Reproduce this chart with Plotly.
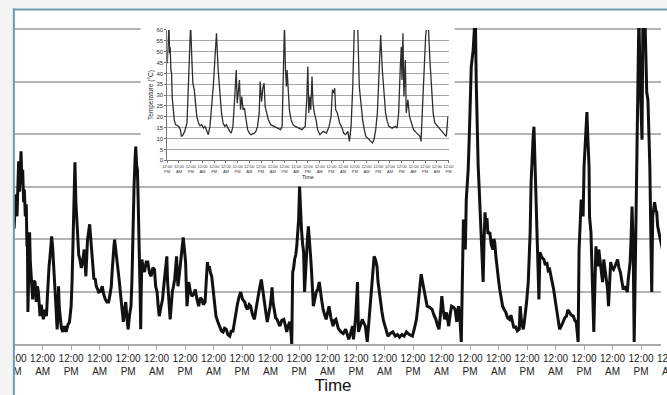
import plotly.graph_objects as go

FONT = "Liberation Sans, Arial, sans-serif"

# Main trace: hours from the first 12:00 PM mark, temperature
main_hours = [
    -2.9, -1.5, 0.0, 0.6, 1.2, 1.9, 2.3, 2.6, 2.9, 3.3, 3.6, 4.0, 4.3, 4.7, 5.1, 5.4, 5.6, 5.8,
    6.2, 6.5, 6.8, 7.0, 7.4, 7.8, 8.2, 8.8, 9.3, 9.8, 10.2, 10.6, 10.9, 11.4, 12.3, 13.0, 13.6,
    14.0, 14.3, 14.7, 15.0, 15.4, 15.8, 16.2, 16.6, 17.0, 17.5, 18.1, 18.4, 18.7, 19.0, 19.4,
    19.9, 20.5, 21.2, 21.9, 22.6, 23.3, 24.0, 24.4, 24.7, 25.1, 25.6, 26.0, 26.4, 26.7, 27.2,
    27.7, 28.3, 28.8, 29.5, 30.2, 30.9, 31.8, 32.2, 32.6, 33.1, 33.6, 34.1, 34.6, 35.1, 35.6,
    36.3, 37.1, 37.7, 38.4, 39.1, 39.8, 40.4, 40.9, 41.3, 41.6, 42.0, 42.3, 42.8, 43.2, 43.7,
    44.2, 44.8, 45.3, 45.7, 46.0, 46.5, 47.0, 47.5, 48.0, 48.6, 49.2, 49.6, 49.9, 50.2, 50.5,
    50.9, 51.2, 51.6, 51.9, 52.2, 52.5, 52.8, 53.0, 53.3, 53.5, 53.8, 54.3, 54.9, 55.6, 56.3,
    57.0, 57.7, 58.4, 59.1, 59.6, 60.2, 60.7, 61.1, 61.8, 62.5, 63.0, 63.5, 64.3, 64.6, 65.0,
    65.4, 65.7, 66.2, 66.6, 67.1, 67.6, 68.0, 68.4, 68.7, 69.0, 69.5, 70.1, 70.6, 71.2, 71.7,
    72.2, 72.5, 72.8, 73.2, 73.5, 74.2, 74.9, 75.6, 76.3, 77.0, 77.7, 78.4, 79.0, 79.7, 80.4,
    80.9, 81.4, 81.8, 82.2, 82.7, 83.2, 83.9, 84.4, 85.0, 85.8, 86.6, 87.3, 88.0, 88.6, 89.3,
    90.0, 90.8, 91.5, 92.1, 92.8, 93.4, 94.0, 94.6, 95.4, 96.2, 97.1, 97.7, 98.3, 99.0, 99.6,
    100.4, 101.2, 101.8, 102.4, 103.3, 104.1, 104.7, 105.3, 106.0, 106.6, 107.2, 107.8, 108.3,
    108.6, 109.0, 109.5, 110.1, 110.7, 111.3, 111.9, 112.7, 113.6, 114.2, 114.8, 115.4, 116.1,
    116.6, 116.9, 117.3, 117.7, 118.1, 118.6, 119.0, 119.4, 119.8, 120.2, 120.6, 121.0, 121.5,
    121.9, 122.3, 122.7, 123.1, 123.5, 123.9, 124.3, 124.8, 125.2, 125.6, 126.0, 126.6, 127.2,
    127.9, 128.5, 129.3, 130.1, 130.8, 131.4, 132.0, 132.6, 133.4, 134.3, 134.9, 135.5, 136.5,
    137.6, 138.6, 139.6, 140.3, 140.9, 141.7, 142.5, 142.9, 143.8, 144.6, 145.0, 145.8, 146.6,
    147.2, 147.9, 148.7, 149.3, 149.9, 150.4, 150.8, 151.2, 151.6, 152.2, 152.8, 153.2, 153.7,
    154.3, 154.9, 155.5, 156.1, 156.8, 157.4, 158.4, 159.5, 160.5, 161.4, 162.3, 163.3, 164.2,
    165.2, 166.4, 167.7, 168.6, 169.4, 170.0, 170.6, 171.0, 171.4, 172.0, 172.7, 173.3, 173.9,
    175.0, 176.0, 176.8, 177.6, 178.3, 178.9, 179.5, 180.1, 180.7, 181.3, 182.1, 183.0, 183.6,
    184.2, 185.0, 185.7, 186.4, 187.1, 187.7, 188.3, 189.2, 189.6, 190.0, 190.4, 190.8, 191.2,
    191.7, 192.1, 192.5, 193.3, 193.7, 194.2, 194.6, 195.0, 195.4, 195.8, 196.2, 196.6, 197.1,
    197.5, 197.9, 198.3, 198.7, 199.1, 199.5, 200.3, 200.9, 201.6, 202.0, 202.4, 202.8, 203.2,
    203.9, 204.5, 205.1, 205.7, 206.4, 207.0, 207.8, 208.6, 209.2, 209.8, 210.5, 211.1, 211.9,
    212.7, 213.1, 213.7, 214.4, 214.8, 215.2, 215.8, 216.5, 216.9, 217.3, 217.7, 218.1, 218.5,
    218.9, 219.4, 219.8, 220.2, 220.6, 221.0, 221.4, 222.2, 223.1, 223.7, 224.3, 224.9, 225.5,
    226.3, 227.2, 227.8, 228.4, 229.0, 229.7, 230.5, 231.3, 231.9, 232.6, 233.2, 233.8, 234.6,
    235.5, 236.1, 236.7, 237.1, 237.5, 237.9, 238.4, 238.8, 239.2, 239.6, 240.0, 240.6, 241.2,
    241.7, 242.1, 242.3, 242.9, 243.3, 243.7, 244.1, 244.5, 245.0, 245.4, 245.8, 246.2, 247.0,
    247.8, 248.3, 249.1, 249.9, 250.3, 250.8, 251.2, 251.8, 252.4, 253.2, 254.1, 254.7, 255.3,
    255.9, 256.5, 257.3, 258.2, 258.6, 259.0, 259.4, 259.8, 260.2, 260.7, 261.1, 261.5, 261.9,
    262.3, 262.7, 263.1, 263.5, 264.0, 264.4, 264.8, 265.2, 265.6, 266.0, 266.4, 266.9, 267.3,
    267.7, 268.1, 268.5, 268.9, 269.3, 269.7, 270.2, 270.6, 271.0, 271.6, 272.2, 273.0, 273.9,
]
main_temp = [
    20.0, 26.0, 22.0, 28.5, 24.3, 34.8, 29.0, 35.5, 36.7, 30.4, 33.2, 27.0, 29.4, 24.3, 26.6, 18.6, 20.0, 6.1,
    17.1, 21.3, 15.8, 14.2, 11.4, 8.5, 12.0, 11.8, 8.0, 11.0, 9.9, 7.0, 5.3, 7.5, 4.7, 6.5, 5.3,
    9.0, 12.9, 14.8, 16.1, 18.0, 20.5, 18.5, 16.1, 12.0, 8.0, 2.8, 5.0, 11.0, 7.0, 4.7,
    3.0, 2.3, 3.4, 2.3, 3.6, 4.2, 7.2, 12.0, 17.5, 30.0, 34.6, 27.0, 23.0, 19.9, 17.0,
    16.1, 14.5, 15.6, 18.0, 12.9, 19.9, 22.8, 20.0, 18.6, 15.0, 12.3, 12.5, 11.0, 10.5, 9.9,
    10.0, 11.0, 9.5, 8.5, 8.0, 8.0, 9.5, 11.0, 14.0, 17.5, 18.5, 19.9, 17.5, 16.1, 14.0,
    12.3, 9.5, 7.2, 5.5, 4.2, 6.5, 8.0, 5.0, 2.8, 5.5, 7.2, 12.0, 20.5, 25.0, 30.0,
    35.0, 37.6, 34.0, 33.2, 28.0, 23.7, 15.0, 11.0, 2.8, 10.0, 16.1, 14.5, 13.7, 15.6, 15.6,
    13.5, 12.9, 14.5, 14.2, 11.0, 9.9, 7.0, 5.3, 7.0, 8.5, 11.0, 12.9, 16.7, 12.0, 8.5,
    6.0, 4.7, 7.5, 9.9, 11.0, 12.3, 14.5, 16.7, 13.0, 11.0, 13.0, 16.1, 18.0, 20.3, 18.0,
    15.6, 11.0, 7.2, 9.5, 11.8, 10.0, 9.1, 9.5, 10.4, 8.5, 7.2, 8.8, 8.5, 7.5, 8.0,
    12.0, 15.6, 14.0, 14.8, 13.5, 12.9, 9.9, 7.0, 5.3, 4.2, 3.4, 2.5, 2.3, 3.0, 2.8,
    1.8, 1.5, 2.6, 2.3, 4.5, 6.6, 7.5, 8.8, 9.9, 8.5, 8.0, 7.0, 6.6, 7.5, 7.2,
    5.5, 4.7, 6.5, 8.5, 10.5, 12.3, 10.0, 8.5, 6.0, 4.2, 5.5, 7.2, 9.0,
    10.8, 8.0, 6.1, 5.0, 4.7, 4.0, 3.4, 4.5, 4.7, 3.5, 2.3, 3.5, 4.2,
    2.0, 0.0, 13.7, 14.5, 16.1, 17.0, 18.6, 21.0, 23.7, 30.0, 25.0, 21.8, 19.0,
    17.5, 9.9, 14.0, 17.5, 20.0, 22.4, 20.5, 17.0, 14.2, 10.5, 7.2, 8.5, 9.9,
    10.5, 11.8, 9.0, 6.6, 5.5, 4.7, 6.0, 7.2, 5.0, 3.4, 4.5, 4.7, 3.0,
    2.3, 2.0, 2.8, 1.8, 0.9, 2.0, 3.4, 0.9, 5.0, 11.8, 2.3, 3.5, 4.7,
    4.0, 3.4, 0.4, 4.0, 7.2, 10.0, 12.3, 15.0, 16.7, 16.0, 14.8, 12.0, 9.9,
    8.0, 6.1, 4.5, 3.4, 2.5, 1.5, 2.0, 2.3, 1.5, 1.8, 1.3, 1.8, 1.5,
    2.3, 1.8, 1.5, 3.0, 4.7, 7.0, 9.9, 11.5, 13.3, 11.8, 9.9, 8.5, 7.2,
    7.0, 6.6, 5.5, 4.7, 3.5, 2.8, 5.5, 9.1, 6.5, 4.7, 6.0, 3.4, 5.5,
    7.2, 7.0, 6.6, 4.2, 7.2, 5.0, 0.4, 23.7, 20.0, 18.0, 27.5, 30.0, 33.2,
    40.0, 46.5, 52.8, 56.0, 60.0, 63.0, 49.8, 38.9, 34.0, 30.0, 25.6, 21.3, 16.0,
    11.8, 20.0, 25.1, 22.4, 24.0, 21.0, 21.3, 19.0, 18.0, 20.0, 19.4, 17.0, 14.8,
    12.5, 10.4, 8.5, 7.2, 6.5, 6.1, 5.0, 4.7, 5.5, 4.2, 3.0, 3.4, 2.5,
    2.8, 7.2, 4.0, 2.8, 4.0, 5.3, 8.0, 11.8, 16.0, 21.3, 30.8, 37.0, 39.0,
    41.4, 33.8, 27.0, 19.9, 14.0, 8.5, 17.5, 16.5, 16.1, 15.0, 15.6, 14.0, 14.2,
    12.5, 10.4, 8.5, 6.6, 4.5, 2.8, 3.5, 4.2, 5.0, 5.3, 6.5, 6.1, 5.5,
    5.3, 4.5, 4.2, 2.0, 0.4, 18.0, 24.0, 27.5, 26.0, 24.3, 33.8, 40.0, 44.2,
    38.0, 33.8, 24.3, 21.3, 15.0, 9.9, 2.3, 10.0, 18.6, 16.0, 14.8, 18.0, 15.0,
    11.8, 16.1, 13.0, 10.4, 7.2, 11.0, 15.6, 14.5, 14.2, 15.0, 16.1, 14.5, 13.7,
    12.0, 10.4, 11.0, 9.9, 12.3, 14.0, 15.6, 20.0, 26.2, 18.0, 0.4, 12.0, 24.3,
    38.9, 50.0, 63.0, 52.0, 44.0, 38.9, 63.0, 62.0, 63.0, 55.0, 47.9, 46.5, 40.0,
    33.8, 21.3, 9.9, 24.3, 26.0, 27.0, 25.5, 25.1, 22.4, 21.0, 19.4, 18.0, 16.1,
]

# Inset trace: same time base, temperature in degrees Celsius
inset_hours = [
    0.0, 1.0, 1.7, 2.4, 3.0, 3.7, 4.4, 5.0, 6.0, 7.1, 8.4, 11.8, 13.4, 14.5, 15.8, 17.8, 20.2,
    21.8, 22.9, 23.9, 25.2, 26.2, 27.6, 28.6, 30.2, 31.9, 33.6, 35.3, 37.0, 38.7, 40.3, 42.0,
    43.7, 45.4, 47.1, 48.7, 50.4, 52.1, 53.8, 55.5, 57.1, 58.8, 60.5, 62.2, 63.9, 65.5, 67.2,
    68.9, 70.6, 71.6, 72.9, 73.9, 75.0, 76.3, 77.6, 79.0, 80.7, 82.3, 84.0, 85.7, 89.1, 90.7,
    92.4, 94.1, 95.1, 96.5, 97.8, 99.1, 100.2, 101.8, 103.5, 105.9, 109.2, 112.6, 116.0, 117.6,
    118.6, 120.0, 121.0, 122.0, 122.7, 123.7, 125.0, 126.7, 128.7, 131.1, 134.4, 137.8, 141.2,
    142.8, 143.9, 144.9, 145.9, 146.9, 148.2, 149.2, 150.6, 152.3, 153.9, 156.3, 159.6, 163.0,
    165.7, 167.7, 169.1, 170.4, 171.4, 172.4, 174.1, 176.5, 179.1, 180.5, 182.5, 184.9, 186.5,
    188.2, 189.9, 191.6, 193.3, 194.9, 196.6, 198.3, 200.0, 201.7, 203.3, 206.7, 210.1, 211.7,
    213.4, 215.1, 216.8, 218.5, 220.2, 221.8, 223.5, 225.2, 226.9, 230.2, 233.6, 235.3, 236.9,
    238.6, 239.6, 240.3, 241.3, 242.3, 243.7, 244.7, 246.4, 248.0, 249.7, 252.1, 255.4, 258.8,
    259.8, 261.1, 263.2, 264.5, 265.9, 267.2, 268.9, 270.6, 272.2, 273.9, 277.3, 280.6, 284.0,
    285.7, 287.4,
]
inset_temp = [
    44.7, 58.0, 63.0, 49.3, 52.0, 41.6, 40.0, 29.4, 23.3, 18.7, 16.4, 15.6, 14.1, 11.0, 11.5, 13.3, 17.2,
    34.0, 49.0, 63.0, 46.2, 35.5, 32.5, 26.3, 20.2, 17.2, 15.9, 16.4, 14.8, 15.6, 13.3, 11.8,
    15.6, 23.3, 34.0, 46.2, 58.5, 41.6, 29.4, 21.8, 17.2, 15.6, 16.4, 14.8, 13.3, 12.5, 15.6,
    27.9, 41.6, 26.3, 30.9, 37.0, 23.3, 29.4, 23.3, 24.0, 18.7, 14.1, 12.5, 11.8, 12.5, 13.3,
    15.6, 21.8, 36.3, 27.0, 33.2, 35.5, 24.8, 21.8, 18.7, 16.4, 15.6, 14.8, 14.1, 15.6,
    43.2, 63.0, 41.6, 34.0, 41.6, 30.9, 23.3, 18.7, 16.4, 15.6, 14.8, 14.1, 15.6,
    27.9, 43.2, 21.8, 29.4, 23.3, 38.6, 26.3, 21.8, 18.7, 14.1, 11.8, 13.3, 12.5,
    15.6, 20.2, 32.5, 31.0, 33.2, 23.3, 21.8, 17.2, 14.8, 12.5, 11.8, 13.3, 8.7,
    15.6, 34.0, 63.0, 62.0, 63.0, 34.0, 24.8, 18.7, 14.1, 11.0, 9.5, 8.0, 9.5,
    14.1, 21.8, 41.6, 57.7, 41.6, 29.4, 21.8, 18.0, 15.6, 14.8, 15.6, 14.8, 21.8,
    43.2, 52.3, 37.0, 58.5, 29.4, 46.2, 21.8, 27.9, 20.2, 17.2, 14.1, 12.5, 11.0,
    8.7, 21.8, 44.7, 56.9, 63.0, 63.0, 46.2, 30.9, 21.8, 17.2, 15.2, 13.3, 11.8,
    11.0, 20.2,
]

# Time ticks every 12 hours, starting at noon
tick_hours = list(range(0, 289, 12))
tick_text = ["12:00<br>PM" if (h // 12) % 2 == 0 else "12:00<br>AM" for h in tick_hours]

MAIN_RANGE = [-3.85, 272.4]
W, H = 667, 395
M_T, M_B = 28, 50
PLOT_H = H - M_T - M_B


def px_x(p):
    return p / W


def px_y(p):
    return (H - M_B - p) / PLOT_H


fig = go.Figure()

# main series
fig.add_trace(go.Scatter(
    x=main_hours, y=main_temp, mode="lines",
    line=dict(color="#111111", width=3),
    xaxis="x", yaxis="y", hoverinfo="skip", showlegend=False,
))

# white panel behind the inset chart
fig.add_trace(go.Scatter(
    x=[0, 1, 1, 0, 0], y=[0, 0, 1, 1, 0], mode="lines", fill="toself",
    fillcolor="white", line=dict(width=0, color="white"),
    xaxis="x2", yaxis="y2", hoverinfo="skip", showlegend=False,
))

# inset series
fig.add_trace(go.Scatter(
    x=inset_hours, y=inset_temp, mode="lines",
    line=dict(color="#2e2e2e", width=1.3),
    xaxis="x3", yaxis="y3", hoverinfo="skip", showlegend=False,
))

# partially visible label beyond the right edge of the main axis
next_tick = tick_hours[23]
fig.add_annotation(
    x=(next_tick - MAIN_RANGE[0]) / (MAIN_RANGE[1] - MAIN_RANGE[0]), xref="paper",
    xanchor="center", y=0, yref="paper", yanchor="top", yshift=-7, showarrow=False,
    text=tick_text[23], font=dict(family=FONT, size=10, color="#222"),
)

frame_blue = "#6b9dbb"
outside = "#f4f4f4"
fig.update_layout(
    width=W, height=H,
    margin=dict(l=0, r=0, t=M_T, b=M_B),
    paper_bgcolor="white", plot_bgcolor="white",
    font=dict(family=FONT, color="#222"),
    hovermode=False,
    xaxis=dict(
        domain=[0, 1], range=MAIN_RANGE, anchor="y",
        tickmode="array", tickvals=tick_hours, ticktext=tick_text, tickangle=0,
        ticks="outside", ticklen=4, tickcolor="#a8a8a8", tickwidth=1,
        showline=True, linecolor="#aaaaaa", linewidth=1.5,
        showgrid=False, zeroline=False, ticklabeloverflow="allow",
        tickfont=dict(family=FONT, size=10, color="#222"),
        title=dict(text="Time", font=dict(family=FONT, size=17, color="#111"), standoff=6),
    ),
    yaxis=dict(
        domain=[0, 1], range=[0, 60.2], anchor="x", tick0=0, dtick=10,
        showgrid=True, gridcolor="#b4b4b4", gridwidth=1.5,
        showticklabels=False, ticks="", zeroline=False, showline=False,
    ),
    xaxis2=dict(domain=[px_x(138), px_x(457)], range=[0, 1], anchor="y2", visible=False),
    yaxis2=dict(domain=[px_y(185), 1.0], range=[0, 1], anchor="x2", visible=False),
    xaxis3=dict(
        domain=[px_x(165), px_x(451)], range=[0, 288], anchor="y3",
        tickmode="array", tickvals=tick_hours, ticktext=tick_text, tickangle=0,
        ticks="outside", ticklen=2, tickcolor="#777", showline=True, linecolor="#777",
        linewidth=1, showgrid=False, zeroline=False,
        tickfont=dict(family=FONT, size=4, color="#333"),
        title=dict(text="Time", font=dict(family=FONT, size=5.5, color="#222"), standoff=1),
    ),
    yaxis3=dict(
        domain=[px_y(160.7), px_y(30)], range=[0, 60], anchor="x3", tick0=0, dtick=5,
        ticks="outside", ticklen=2, tickcolor="#777", showline=True, linecolor="#777",
        linewidth=1, showgrid=True, gridcolor="#a6a6a6", gridwidth=1, zeroline=False,
        tickfont=dict(family=FONT, size=6, color="#333"),
        title=dict(text="Temperature (°C)", font=dict(family=FONT, size=6.5, color="#222"), standoff=2),
    ),
    shapes=[
        dict(type="rect", xref="paper", yref="paper", x0=-0.05, x1=px_x(8.5), y0=-0.5, y1=1.5,
             fillcolor=outside, line=dict(width=0), layer="above"),
        dict(type="rect", xref="paper", yref="paper", x0=-0.05, x1=1.05, y0=px_y(9), y1=1.5,
             fillcolor=outside, line=dict(width=0), layer="above"),
        dict(type="line", xref="paper", yref="paper", x0=px_x(9), x1=px_x(9),
             y0=px_y(8.5), y1=-0.5, line=dict(color=frame_blue, width=2), layer="above"),
        dict(type="line", xref="paper", yref="paper", x0=px_x(8), x1=1.05,
             y0=px_y(9.5), y1=px_y(9.5), line=dict(color=frame_blue, width=2), layer="above"),
    ],
)

fig.write_html("out.html")
